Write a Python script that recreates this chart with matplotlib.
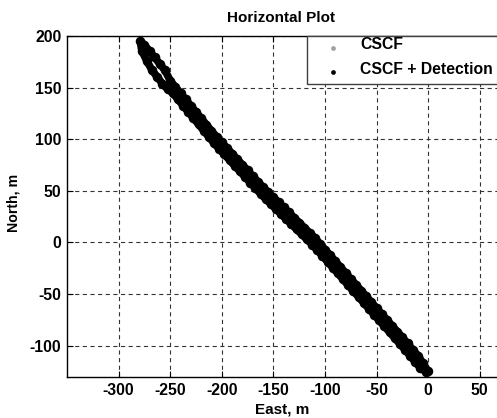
import matplotlib
matplotlib.use("Agg")
import matplotlib.pyplot as plt
from matplotlib.lines import Line2D
from matplotlib.patches import Rectangle

plt.rcParams['font.family'] = ['Liberation Sans', 'DejaVu Sans']
plt.rcParams['font.weight'] = 'bold'
plt.rcParams['lines.scale_dashes'] = False

# Outbound pass (East, North in metres)
east_out = [0, -5, -10, -15, -20, -25, -30, -35, -40, -45, -50, -55, -60, -65, -70,
            -75, -80, -85, -90, -95, -100, -105, -110, -115, -120, -125, -130, -135,
            -140, -145, -150, -155, -160, -165, -170, -175, -180, -185, -190, -195,
            -200, -205, -210, -215, -220, -225, -230, -235, -240, -245, -250, -255,
            -260, -265, -270, -275, -279]
north_out = [-125, -117.1, -109.7, -103.8, -97.9, -92.1, -86.4, -80.7, -75.0, -69.4,
             -63.7, -58.0, -52.3, -46.6, -41.0, -35.3, -29.6, -23.9, -18.2, -12.5,
             -6.9, -1.2, 4.5, 9.4, 14.3, 19.2, 24.1, 29.0, 33.9, 38.8,
             43.7, 48.6, 53.5, 58.8, 64.3, 69.7, 75.2, 80.6, 86.0, 91.5,
             96.9, 102.3, 108.1, 114.2, 120.3, 126.4, 132.4, 138.5, 144.6, 150.6,
             156.8, 166.6, 172.9, 179.2, 185.3, 191.5, 195]

# Return pass
east_back = [-277.5, -272.5, -267.5, -262.5, -257.5, -252.5, -247.5, -242.5, -237.5,
             -232.5, -227.5, -222.5, -217.5, -212.5, -207.5, -202.5, -197.5, -192.5,
             -187.5, -182.5, -177.5, -172.5, -167.5, -162.5, -157.5, -152.5, -147.5,
             -142.5, -137.5, -132.5, -127.5, -122.5, -117.5, -112.5, -107.5, -102.5,
             -97.5, -92.5, -87.5, -82.5, -77.5, -72.5, -67.5, -62.5, -57.5, -52.5,
             -47.5, -42.5, -37.5, -32.5, -27.5, -22.5, -17.5, -12.5, -7.5, -2.5]
north_back = [185.8, 175.4, 166.8, 160.1, 153.8, 148.5, 144.7, 138.6, 132.6, 126.5,
              120.4, 114.4, 108.3, 102.2, 96.2, 90.6, 85.2, 79.8, 74.3, 68.9,
              63.5, 58.0, 52.6, 47.2, 42.1, 37.2, 32.3, 27.4, 22.5, 17.6,
              12.7, 7.8, 2.9, -2.1, -7.4, -13.1, -18.7, -24.4, -30.1, -35.8,
              -41.5, -47.2, -52.8, -58.5, -64.2, -69.9, -75.6, -81.2, -86.9, -92.6,
              -98.3, -104.0, -109.9, -115.8, -121.7, -125.1]

cscf_east = east_out + east_back
cscf_north = north_out + north_back
det_east = east_out + east_back
det_north = north_out + north_back

x_ticks = [-300, -250, -200, -150, -100, -50, 0, 50]
y_ticks = [-100, -50, 0, 50, 100, 150, 200]
series_names = ['CSCF', 'CSCF + Detection']
series_colors = ['#a0a0a0', 'black']

W, H = 497, 418
PX = 1.032  # pixels per metre
fig = plt.figure(figsize=(W / 100, H / 100), dpi=100)
ax_w = 470
ax = fig.add_axes([67 / W, (H - 377) / H, ax_w / W, (377 - 36) / H])

for xs, ys, col in [(cscf_east, cscf_north, series_colors[0]),
                    (det_east, det_north, series_colors[1])]:
    ax.plot(xs, ys, linestyle='-', linewidth=5.4, color=col,
            solid_capstyle='round', solid_joinstyle='round',
            marker='o', markersize=6.8, markerfacecolor=col, markeredgewidth=0)

ax.set_xlim(-350, -350 + ax_w / PX)
ax.set_ylim(-130.4, 200)
ax.set_xticks(x_ticks)
ax.set_yticks(y_ticks)
ax.set_xticklabels([str(v) for v in x_ticks])
ax.set_yticklabels([str(v) for v in y_ticks])
ax.tick_params(direction='in', length=4, width=0.8, labelsize=11.3, pad=4,
               top=True, right=True, colors='black')
for lab in ax.get_xticklabels() + ax.get_yticklabels():
    lab.set_fontweight('bold')
for s in ax.spines.values():
    s.set_linewidth(1.0)
    s.set_color('black')

ax.grid(True, color='#333333', linewidth=0.8, linestyle=(0, (3, 2.5)))
ax.set_axisbelow(True)

# Legend box (MATLAB style), drawn in figure pixels
def fx(px):
    return px / W

def fy(py):
    return 1 - py / H

fig.patches.append(Rectangle((fx(307), fy(83.5)), fx(600) - fx(307), fy(36) - fy(83.5),
                             transform=fig.transFigure, facecolor='white',
                             edgecolor='#404040', linewidth=1.0, zorder=5))
for i, (name, col) in enumerate(zip(series_names, series_colors)):
    yy = [44.5, 69][i]
    fig.lines.append(Line2D([fx(333)], [fy(yy + 3)], transform=fig.transFigure,
                            linestyle='none', marker='o', markersize=3.4,
                            markerfacecolor=col, markeredgewidth=0, zorder=6))
    fig.text(fx(360), fy(yy), name, ha='left', va='center', fontsize=11.3,
             fontweight='bold', zorder=7)

fig.text(281 / W, 1 - 18 / H, 'Horizontal Plot', ha='center', va='center',
         fontsize=11, fontweight='bold')
fig.text(282 / W, 1 - 409 / H, 'East, m', ha='center', va='center',
         fontsize=11, fontweight='bold')
fig.text(14 / W, 1 - 203 / H, 'North, m', ha='center', va='center',
         rotation=90, fontsize=10.2, fontweight='bold')

fig.savefig('out.png', dpi=100)
